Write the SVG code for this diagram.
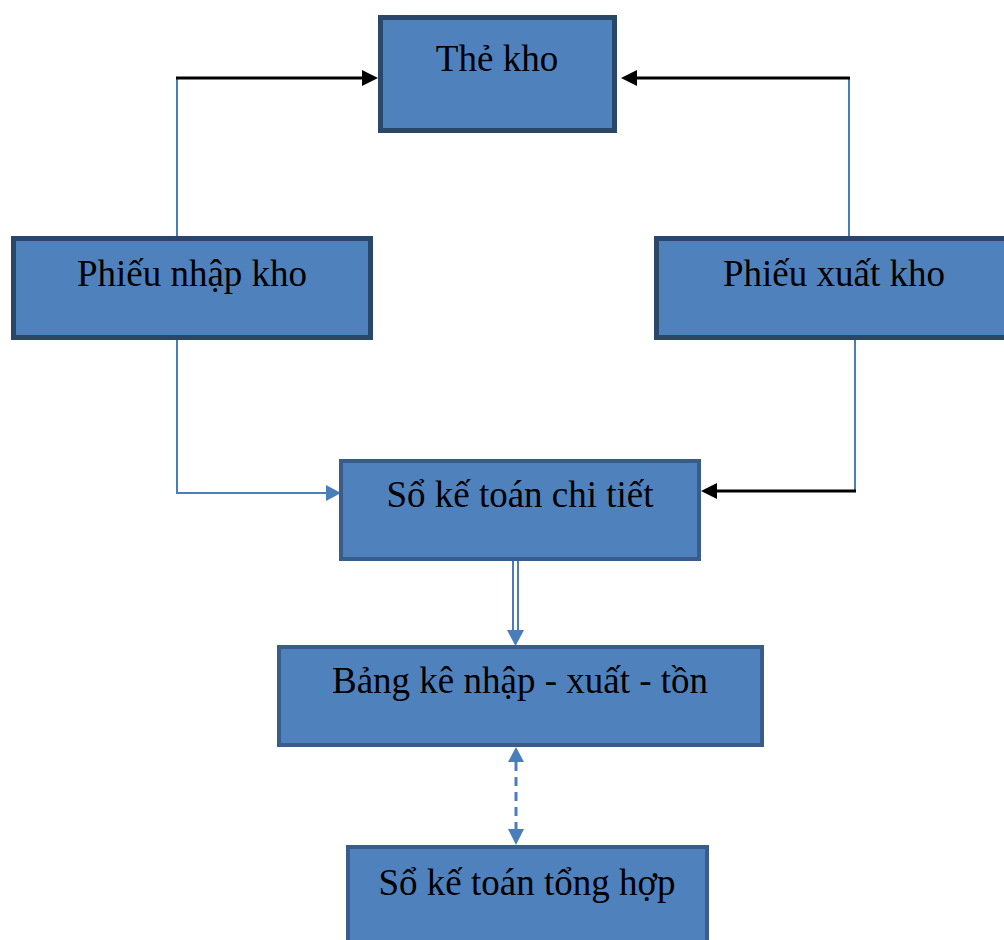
<svg xmlns="http://www.w3.org/2000/svg" width="1004" height="940" viewBox="0 0 1004 940">
  <style>
    .box { fill: #4f81bd; }
    .dark { stroke: #2a4668; stroke-width: 5; }
    .mid { stroke: #385d8a; stroke-width: 4; }
    .label { font-family: "Liberation Serif", "Times New Roman", serif; font-size: 37px; fill: #000; text-anchor: middle; }
    .blue { stroke: #4a7ebb; stroke-width: 2; fill: none; }
    .black { stroke: #000; stroke-width: 3; fill: none; }
    .headBlack { fill: #000; }
    .headBlue { fill: #4a7ebb; }
  </style>

  <g id="connectors">
    <!-- Phiếu nhập kho -> Thẻ kho -->
    <line class="blue" x1="177" y1="237" x2="177" y2="78"/>
    <line class="black" x1="176" y1="78" x2="364" y2="78"/>
    <path class="headBlack" d="M362,70 L378,78 L362,86 z"/>
    <!-- Phiếu xuất kho -> Thẻ kho -->
    <line class="blue" x1="849" y1="237" x2="849" y2="78"/>
    <line class="black" x1="850" y1="78" x2="634" y2="78"/>
    <path class="headBlack" d="M637,70 L621,78 L637,86 z"/>
    <!-- Phiếu nhập kho -> Sổ kế toán chi tiết -->
    <polyline class="blue" points="177,339 177,493 330,493"/>
    <path class="headBlue" d="M326,485 L341,493 L326,501 z"/>
    <!-- Phiếu xuất kho -> Sổ kế toán chi tiết -->
    <line class="blue" x1="855" y1="339" x2="855" y2="491"/>
    <line class="black" x1="856" y1="491" x2="714" y2="491"/>
    <path class="headBlack" d="M717,483 L701,491 L717,499 z"/>
    <!-- Sổ kế toán chi tiết -> Bảng kê (double line) -->
    <line class="blue" x1="513" y1="560" x2="513" y2="632"/>
    <line class="blue" x1="518" y1="560" x2="518" y2="632"/>
    <path class="headBlue" d="M507,630 L524,630 L515.5,646 z"/>
    <!-- Bảng kê <-> Sổ kế toán tổng hợp (dashed) -->
    <line x1="516" y1="762" x2="516" y2="830" stroke="#4a7ebb" stroke-width="3" stroke-dasharray="9,6"/>
    <path class="headBlue" d="M508,762 L524,762 L516,747 z"/>
    <path class="headBlue" d="M508,829 L524,829 L516,845 z"/>
  </g>

  <g id="the-kho">
    <rect class="box dark" x="380.5" y="17.5" width="234" height="113"/>
    <text class="label" x="497" y="71">Thẻ kho</text>
  </g>

  <g id="phieu-nhap-kho">
    <rect class="box dark" x="13.5" y="238.5" width="357" height="99"/>
    <text class="label" x="192" y="286">Phiếu nhập kho</text>
  </g>

  <g id="phieu-xuat-kho">
    <rect class="box dark" x="656.5" y="238.5" width="352" height="99"/>
    <text class="label" x="834" y="286">Phiếu xuất kho</text>
  </g>

  <g id="so-ke-toan-chi-tiet">
    <rect class="box mid" x="341" y="461" width="358" height="98"/>
    <text class="label" x="520" y="507">Sổ kế toán chi tiết</text>
  </g>

  <g id="bang-ke">
    <rect class="box mid" x="279" y="647" width="483" height="98"/>
    <text class="label" x="520" y="693">Bảng kê nhập - xuất - tồn</text>
  </g>

  <g id="so-ke-toan-tong-hop">
    <rect class="box mid" x="348" y="847" width="359" height="110"/>
    <text class="label" x="527" y="895">Sổ kế toán tổng hợp</text>
  </g>
</svg>
